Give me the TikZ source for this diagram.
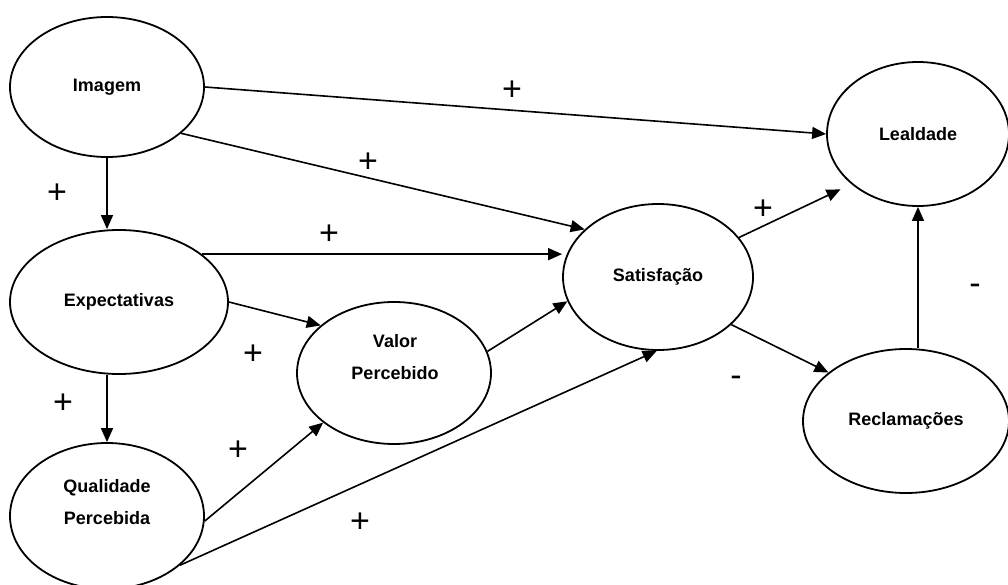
\documentclass[tikz,border=0pt]{standalone}
\usepackage{fontspec}
\setmainfont{Liberation Sans}
\usetikzlibrary{arrows.meta,shapes.geometric}
\begin{document}
\begin{tikzpicture}[x=1pt,y=-1pt,
  elli/.style={ellipse, draw, line width=1.8pt, inner sep=0pt, font=\fontsize{18}{32}\selectfont\bfseries},
  lbl/.style={inner sep=0pt, align=center, font=\fontsize{18}{32}\selectfont\bfseries},
  arr/.style={-{Triangle[length=14pt,width=12pt]}, line width=1.6pt},
  sign/.style={font=\fontsize{34}{34}\selectfont, inner sep=0pt}]
\useasboundingbox (0,0) rectangle (1008,585);
% ellipses
\node[elli, minimum width=194pt, minimum height=140pt] (img) at (107,87) {Imagem};
\node[elli, minimum width=218pt, minimum height=144pt] (exp) at (119,302) {Expectativas};
\node[elli, minimum width=194pt, minimum height=146pt] (qual) at (107,516) {};
\node[lbl] (qualtxt) at (107,502) {Qualidade\\Percebida};
\node[elli, minimum width=194pt, minimum height=142pt] (val) at (394,373) {};
\node[lbl] (valtxt) at (395,357.5) {Valor\\Percebido};
\node[elli, minimum width=190pt, minimum height=146pt] (sat) at (658,277) {Satisfação};
\node[elli, minimum width=182pt, minimum height=144pt] (leal) at (918,134) {Lealdade};
\node[elli, minimum width=206pt, minimum height=144pt] (recl) at (906,421) {Reclamações};
% connectors
\draw[arr] (img.east) -- (leal.west);
\draw[arr] (img.-32) -- (sat.147);
\draw[arr] (exp.30) -- (exp.30 -| sat.west);
\draw[arr] (exp.east) -- (val.147);
\draw[arr] (qual.-3) -- (val.215);
\draw[arr] (qual.-34) -- (sat.-91);
\draw[arr] (val.13) -- (sat.195);
\draw[arr, shorten >=12pt] (sat.26) -- (leal.217);
\draw[arr] (sat.-33) -- (recl.148);
\draw[arr] (leal.south |- recl.north) -- (leal.south);
\draw[arr] (img.south) -- (img.south |- exp.north);
\draw[arr] (qual.north |- exp.south) -- (qual.north);
% signs
\node[sign] (s1) at (512,91) {+};
\node[sign] (s2) at (368,163) {+};
\node[sign] (s3) at (329,235) {+};
\node[sign] (s4) at (57,194) {+};
\node[sign] (s5) at (253,355) {+};
\node[sign] (s6) at (63,404) {+};
\node[sign] (s7) at (238,451) {+};
\node[sign] (s8) at (360,523) {+};
\node[sign] (s9) at (763,210) {+};
\node[sign] (m1) at (736,381) {-};
\node[sign] (m2) at (975,289) {-};
\end{tikzpicture}
\end{document}
